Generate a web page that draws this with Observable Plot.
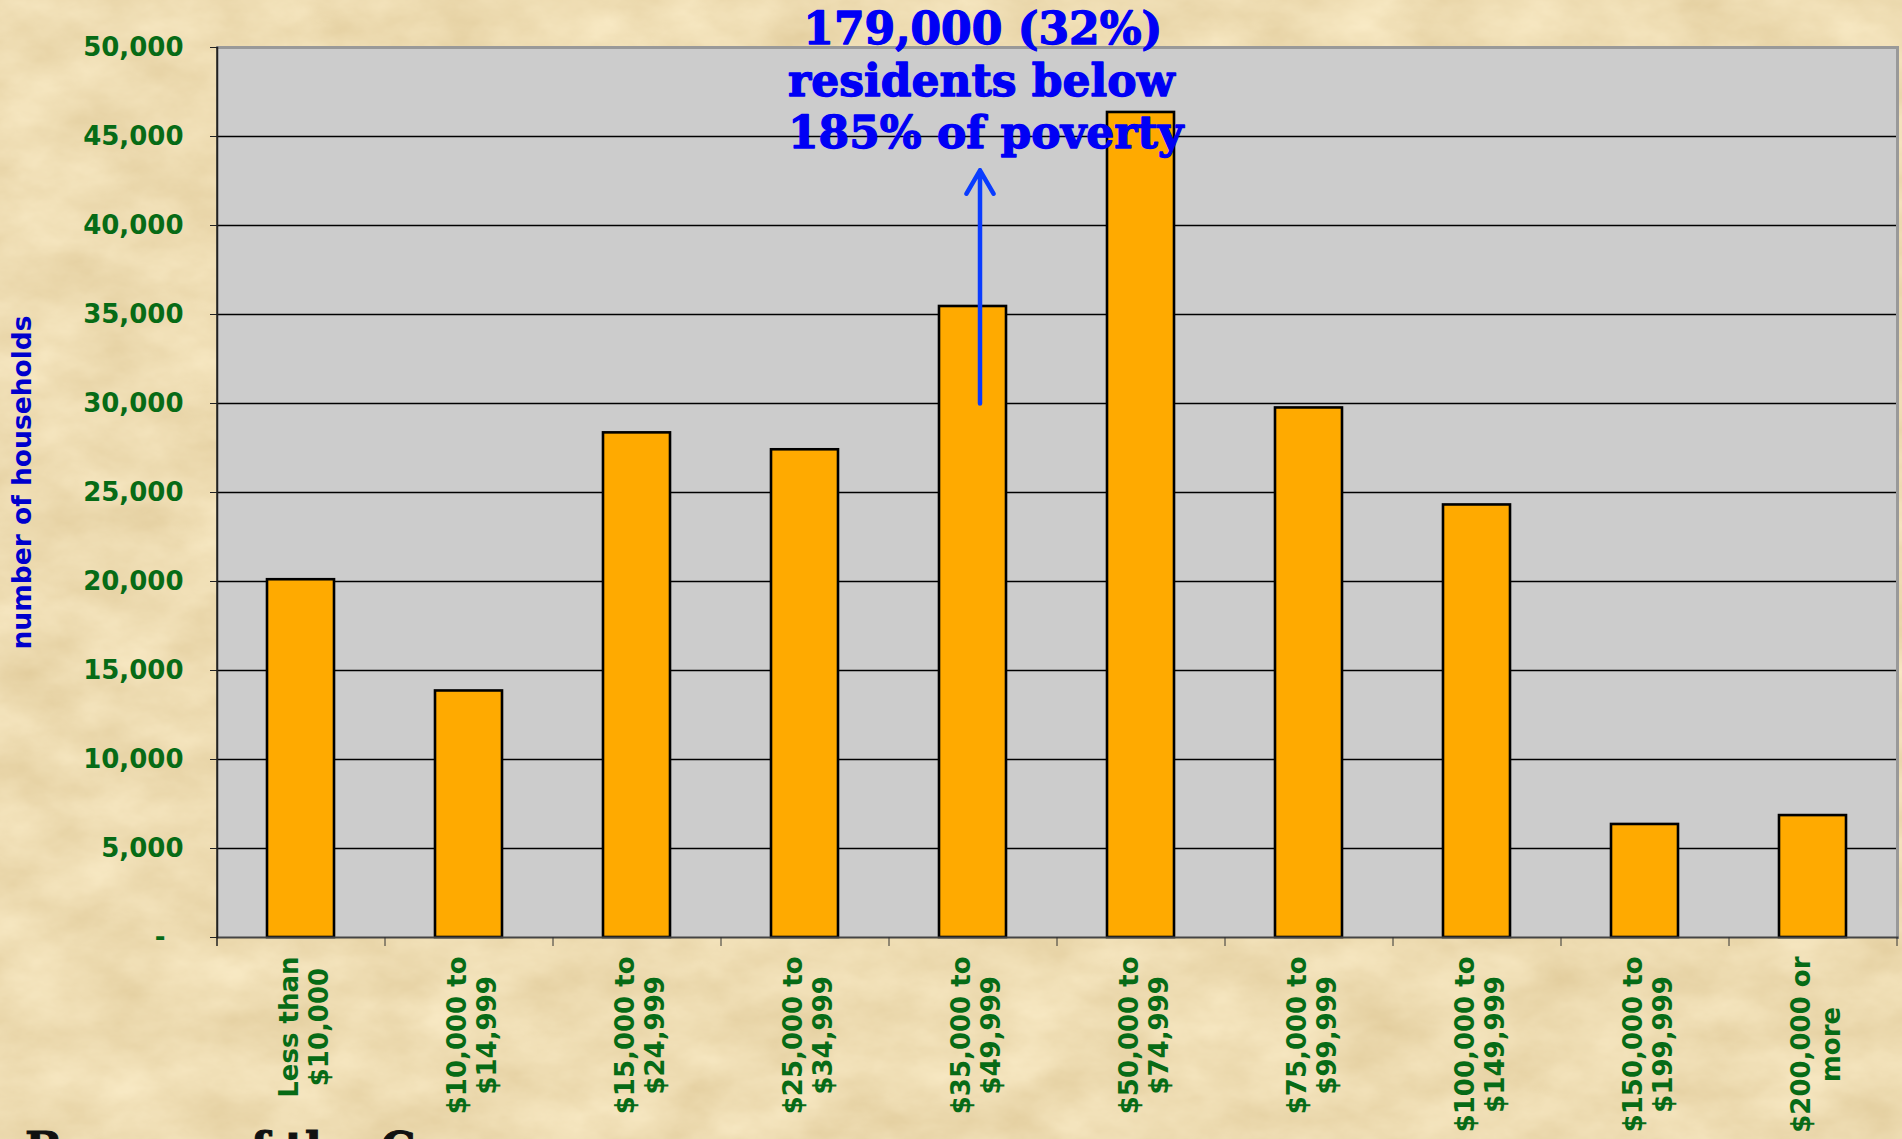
<!DOCTYPE html>
<html><head><meta charset="utf-8">
<script src="https://cdn.jsdelivr.net/npm/d3@7"></script>
<script src="https://cdn.jsdelivr.net/npm/@observablehq/plot@0.6"></script>
<style>
html,body{margin:0;padding:0;width:1902px;height:1139px;overflow:hidden;background:#eedbb2;}
#bg{position:absolute;left:0;top:0;}
#chart{position:absolute;left:0;top:0;}
#source{position:absolute;left:25px;top:1127px;font-family:"DejaVu Serif";font-weight:bold;font-size:44px;line-height:44px;color:#111;white-space:nowrap;-webkit-text-stroke:1px #111;}
</style></head><body>
<svg id="bg" width="1902" height="1139">
  <filter id="paper" x="0" y="0" width="100%" height="100%" color-interpolation-filters="sRGB">
    <feTurbulence type="fractalNoise" baseFrequency="0.012 0.02" numOctaves="5" seed="7"/>
    <feColorMatrix type="matrix" values="0.1 0 0 0 0.883  0.13 0 0 0 0.798  0.18 0 0 0 0.608  0 0 0 0 1"/>
  </filter>
  <rect width="1902" height="1139" filter="url(#paper)"/>
</svg>
<div id="chart"></div>
<div id="source">Bureau of the Census</div>
<script>
// ---- data ----
const categories = [
  "Less than\n$10,000",
  "$10,000 to\n$14,999",
  "$15,000 to\n$24,999",
  "$25,000 to\n$34,999",
  "$35,000 to\n$49,999",
  "$50,000 to\n$74,999",
  "$75,000 to\n$99,999",
  "$100,000 to\n$149,999",
  "$150,000 to\n$199,999",
  "$200,000 or\nmore"
];
const households = [20100, 13850, 28350, 27400, 35450, 46350, 29750, 24300, 6350, 6850];
const yTicks = [5000, 10000, 15000, 20000, 25000, 30000, 35000, 40000, 45000, 50000];
const yZeroTick = [0];
const yTitle = "number of households";
const annotationText = "\u00a0179,000 (32%)\nresidents below\n185% of poverty";
const annotatedCategory = categories[4];
const arrowFrom = 30000;
const arrowTo = 43100;

// ---- styling ----
const green = "#076b16";
const xFont = 26;
const rows = categories.map((c, i) => ({cat: c, value: households[i]}));

const ctx = document.createElement("canvas").getContext("2d");
ctx.font = `bold ${xFont}px "DejaVu Sans"`;
const labelMarks = categories.map(c => {
  const w = Math.max(...c.split("\n").map(s => ctx.measureText(s).width));
  return Plot.text([c], {
    x: d => d, text: d => d, frameAnchor: "bottom",
    dy: 19 + w / 2, dx: 2, rotate: -90,
    textAnchor: "middle", lineAnchor: "middle", lineHeight: 1.15,
    fontSize: xFont, fontWeight: "bold", fontFamily: "DejaVu Sans", fill: green
  });
});

const chart = Plot.plot({
  width: 1902, height: 1139,
  marginLeft: 217, marginRight: 5, marginTop: 47, marginBottom: 202,
  style: {background: "transparent", overflow: "visible"},
  x: {domain: categories, paddingInner: 0.6, paddingOuter: 0.3, axis: null},
  y: {domain: [0, 50000], axis: null},
  marks: [
    Plot.frame({fill: "#cccccc", stroke: null}),
    Plot.gridY(yTicks.slice(0, -1), {stroke: "#000", strokeOpacity: 1, strokeWidth: 1.3}),
    Plot.barY(rows, {x: "cat", y: "value", fill: "#ffaa00", stroke: "#000", strokeWidth: 2.6}),
    Plot.frame({anchor: "top", stroke: "#999", strokeWidth: 3}),
    Plot.frame({anchor: "right", stroke: "#999", strokeWidth: 3}),
    Plot.frame({anchor: "bottom", stroke: "#444", strokeWidth: 2}),
    Plot.frame({anchor: "left", stroke: "#222", strokeWidth: 1.5}),
    Plot.axisY(yTicks, {tickSize: 7, tickPadding: 27, tickFormat: d3.format(","), stroke: "#222",
      fill: green, fontSize: 26, fontWeight: "bold", fontFamily: "DejaVu Sans", label: null}),
    Plot.axisY(yZeroTick, {tickSize: 7, tickPadding: 45, tickFormat: () => "-", stroke: "#222",
      fill: green, fontSize: 26, fontWeight: "bold", fontFamily: "DejaVu Sans", label: null}),
    Plot.axisX({tickSize: 9, dx: 84, tickFormat: () => "", stroke: "#333", label: null}),
    Plot.tickX([categories[0]], {x: d => d, dx: -84, y1: 0, y2: 0, insetBottom: -9, stroke: "#222", strokeWidth: 1.5}),
    ...labelMarks,
    Plot.text([yTitle], {text: d => d, frameAnchor: "left", dx: -195, dy: -10, rotate: -90,
      textAnchor: "middle", lineAnchor: "middle",
      fontSize: 26.5, fontWeight: "bold", fontFamily: "DejaVu Sans", fill: "#0000cc"}),
    Plot.arrow([annotatedCategory], {x: d => d, y1: arrowFrom, y2: arrowTo, dx: 7,
      stroke: "#0a3cff", strokeWidth: 4.5, headLength: 9, strokeLinecap: "round", strokeLinejoin: "round"}),
    Plot.text([annotationText], {x: () => annotatedCategory, text: d => d, frameAnchor: "top",
      dx: -185, dy: -41, textAnchor: "start", lineAnchor: "top", lineHeight: 1.19,
      fontSize: 44, fontWeight: "bold", fontFamily: "DejaVu Serif", fill: "#0000f5",
      stroke: "#0000f5", strokeWidth: 1.3})
  ]
});
document.getElementById("chart").append(chart);
</script>
</body></html>
